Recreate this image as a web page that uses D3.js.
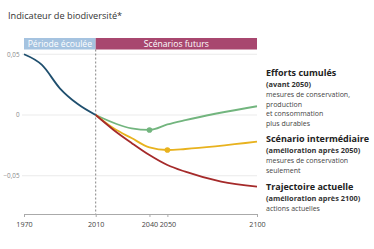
<!DOCTYPE html>
<html>
<head>
<meta charset="utf-8">
<script src="https://cdn.jsdelivr.net/npm/d3@7"></script>
<style>
  html, body { margin: 0; padding: 0; background: #fff; }
  svg { display: block; font-family: "Open Sans", sans-serif; }
</style>
</head>
<body>
<div id="chart"></div>
<script>
// data
const pastYears = [1970, 1980, 1990, 2000, 2010];
const pastValues = [0.05, 0.0412, 0.022, 0.009, 0];

const effortYears = [2010, 2030, 2040, 2050, 2060, 2100];
const effortValues = [0, -0.011, -0.0123, -0.0078, -0.0042, 0.0072];

const interYears = [2010, 2020, 2030, 2040, 2050, 2060, 2100];
const interValues = [0, -0.011, -0.019, -0.0267, -0.0288, -0.028, -0.022];

const currentYears = [2010, 2020, 2030, 2040, 2050, 2060, 2080, 2100];
const currentValues = [0, -0.0123, -0.023, -0.033, -0.0412, -0.0467, -0.0549, -0.059];

const xTicks = [1970, 2010, 2040, 2050, 2100];
const yTicks = [0.05, 0, -0.05];

const periods = [
  { label: "Période écoulée", from: 1970, to: 2010, color: "#a5c3e0" },
  { label: "Scénarios futurs", from: 2010, to: 2100, color: "#a8476f" }
];

const legendBlocks = [
  { title: "Efforts cumulés", sub: "(avant 2050)", lines: ["mesures de conservation,", "production", "et consommation", "plus durables"], y: 76 },
  { title: "Scénario intermédiaire", sub: "(amélioration après 2050)", lines: ["mesures de conservation", "seulement"], y: 142 },
  { title: "Trajectoire actuelle", sub: "(amélioration après 2100)", lines: ["actions actuelles"], y: 190 }
];

const w = 374, h = 249;

const svg = d3.select("#chart").append("svg")
    .attr("width", w)
    .attr("height", h);

const x = d3.scaleLinear()
    .domain([1970, 2100])
    .range([24, 257]);

const y = d3.scaleLinear()
    .domain([-0.0815, 0.0535])
    .range([214, 50]);

const fmt = v => v === 0 ? "0" : d3.format(".2f")(v).replace(".", ",");

// title
svg.append("text")
    .attr("x", 8)
    .attr("y", 18.5)
    .attr("font-size", 9.2)
    .attr("fill", "#333")
    .text("Indicateur de biodiversité*");

// period bands
svg.selectAll("rect.band")
    .data(periods)
    .enter()
    .append("rect")
    .attr("class", "band")
    .attr("x", d => x(d.from))
    .attr("width", d => x(d.to) - x(d.from))
    .attr("y", 38)
    .attr("height", 11.5)
    .attr("fill", d => d.color);

svg.selectAll("text.band")
    .data(periods)
    .enter()
    .append("text")
    .attr("class", "band")
    .attr("x", d => (x(d.from) + x(d.to)) / 2)
    .attr("y", 47)
    .attr("text-anchor", "middle")
    .attr("font-size", 8.6)
    .attr("fill", "#fff")
    .text(d => d.label);

// grid + y labels
svg.selectAll("line.grid")
    .data(yTicks)
    .enter()
    .append("line")
    .attr("class", "grid")
    .attr("x1", 22)
    .attr("x2", x(2100))
    .attr("y1", d => y(d))
    .attr("y2", d => y(d))
    .attr("stroke", "#e6e6e6")
    .attr("stroke-width", 0.8);

svg.selectAll("text.ylab")
    .data(yTicks)
    .enter()
    .append("text")
    .attr("class", "ylab")
    .attr("x", 19.5)
    .attr("y", d => y(d) + 2.3)
    .attr("text-anchor", "end")
    .attr("font-size", 6.3)
    .attr("fill", "#888")
    .text(fmt);

// x axis
const xAxis = svg.append("g")
    .attr("transform", `translate(0,${y.range()[0]})`)
    .call(d3.axisBottom(x).tickValues(xTicks).tickFormat(d3.format("d")).tickSizeOuter(0).tickSize(3));

xAxis.select(".domain").attr("stroke", "#aaa");
xAxis.selectAll(".tick line").attr("stroke", "#aaa");
xAxis.selectAll(".tick text")
    .attr("font-family", "'Open Sans', sans-serif")
    .attr("font-size", 7.2)
    .attr("fill", "#444")
    .attr("dy", "0.95em")
    .attr("y", 6.5);

// dashed divider
svg.append("line")
    .attr("x1", x(2010))
    .attr("x2", x(2010))
    .attr("y1", 49.5)
    .attr("y2", y.range()[0])
    .attr("stroke", "#666")
    .attr("stroke-width", 0.8)
    .attr("stroke-dasharray", "2 2");

// lines
const line = d3.line()
    .x(d => x(d[0]))
    .y(d => y(d[1]))
    .curve(d3.curveMonotoneX);

const series = [
  { years: effortYears, values: effortValues, color: "#72b57e", marker: 2040 },
  { years: interYears, values: interValues, color: "#e8b21e", marker: 2050 },
  { years: currentYears, values: currentValues, color: "#a52a2a", marker: null },
  { years: pastYears, values: pastValues, color: "#1f4f6e", marker: null }
];

series.forEach(s => {
    const pts = s.years.map((yr, i) => [yr, s.values[i]]);
    svg.append("path")
        .datum(pts)
        .attr("fill", "none")
        .attr("stroke", s.color)
        .attr("stroke-width", 1.8)
        .attr("d", line);
    if (s.marker !== null) {
        const i = s.years.indexOf(s.marker);
        svg.append("circle")
            .attr("cx", x(s.marker))
            .attr("cy", y(s.values[i]))
            .attr("r", 2.8)
            .attr("fill", s.color);
    }
});

// legend text on the right
const lg = svg.selectAll("g.legend")
    .data(legendBlocks)
    .enter()
    .append("g")
    .attr("class", "legend")
    .attr("transform", d => `translate(266,${d.y})`);

lg.append("text")
    .attr("font-size", 9)
    .attr("font-weight", "bold")
    .attr("fill", "#222")
    .text(d => d.title);

lg.append("text")
    .attr("y", 11)
    .attr("font-size", 7.4)
    .attr("font-weight", "bold")
    .attr("fill", "#333")
    .text(d => d.sub);

lg.each(function(d) {
    d3.select(this).selectAll("text.desc")
        .data(d.lines)
        .enter()
        .append("text")
        .attr("class", "desc")
        .attr("y", (l, i) => 21 + i * 9.6)
        .attr("font-size", 7)
        .attr("fill", "#444")
        .text(l => l);
});
</script>
</body>
</html>
